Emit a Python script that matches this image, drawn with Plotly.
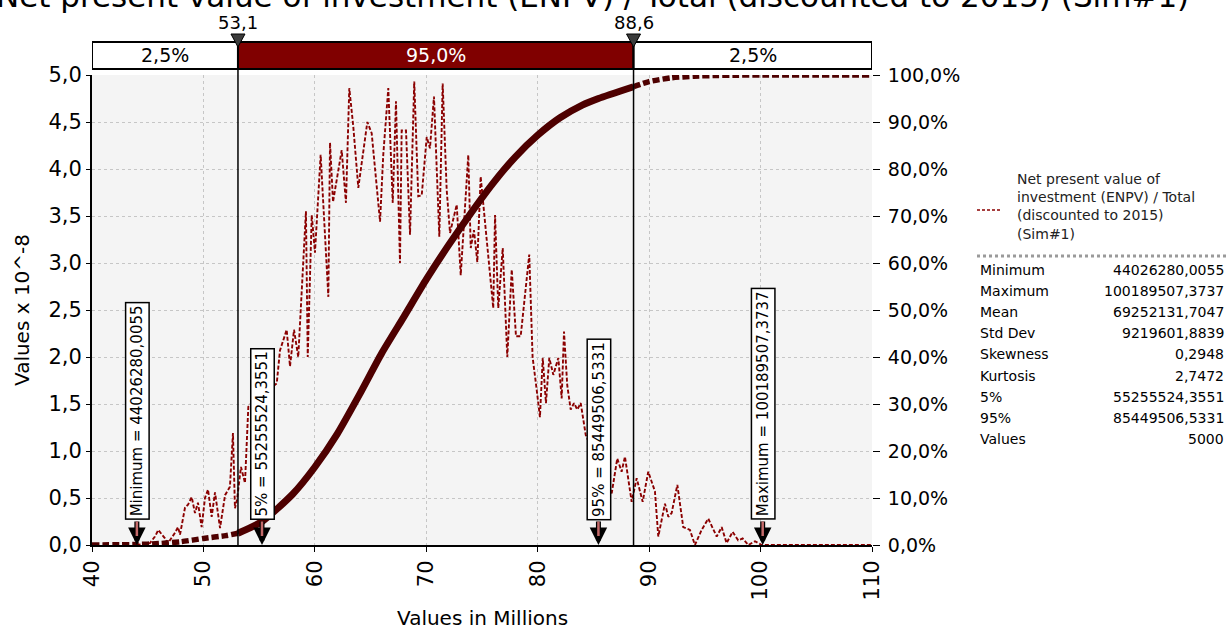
import plotly.graph_objects as go

# ---- Data -----------------------------------------------------------------
# Simulated ENPV histogram density (x in millions, density in units of 10^-8)
dens_x = [44.0, 45.2, 45.65, 45.95, 46.55, 46.82, 47.45, 47.72, 47.9, 48.35,
          48.62, 48.95, 49.24, 49.51, 49.84, 50.14, 50.41, 50.74, 51.04, 51.49,
          51.94, 52.38, 52.65, 52.83, 53.01, 53.37, 53.73, 54.03, 54.33, 56.58,
          56.87, 57.47, 57.77, 58.13, 58.51, 59.2, 59.36, 59.72, 60.01, 60.52,
          61.21, 61.36, 61.63, 62.41, 62.79, 63.09, 63.45, 63.9, 64.71, 65.1,
          65.85, 66.14, 66.59, 66.99, 67.28, 67.64, 67.79, 68.18, 68.54, 68.92,
          69.28, 69.59, 70.04, 70.33, 70.69, 71.17, 71.47, 71.83, 72.13, 72.73,
          73.09, 73.77, 73.99, 74.28, 74.58, 74.88, 76.01, 76.17, 76.46, 76.86,
          77.27, 77.67, 78.05, 78.47, 79.24, 79.54, 79.91, 80.2, 80.45, 80.74,
          81.04, 81.4, 81.85, 82.15, 82.36, 82.65, 82.96, 83.26, 83.55, 83.86,
          84.31, 86.64, 87.14, 87.53, 87.83, 88.43, 88.88, 89.42, 89.92, 90.52,
          90.82, 91.42, 91.72, 92.02, 92.53, 93.06, 93.66, 94.11, 94.71, 95.31,
          96.06, 96.51, 96.95, 97.49, 97.99, 98.39, 98.9, 99.5, 100.1, 110.0]
dens_y = [0.0, 0.02, 0.09, 0.16, 0.07, 0.02, 0.13, 0.19, 0.11, 0.40,
          0.43, 0.51, 0.34, 0.45, 0.19, 0.50, 0.59, 0.30, 0.56, 0.18,
          0.53, 0.62, 1.19, 0.39, 0.48, 0.83, 0.66, 1.47, 1.51, 1.72,
          2.07, 2.29, 1.90, 2.29, 2.00, 3.55, 2.00, 3.51, 3.11, 4.15,
          2.64, 4.28, 3.65, 4.20, 3.64, 4.86, 4.45, 3.80, 4.50, 4.38,
          3.44, 4.15, 4.86, 3.64, 4.72, 3.00, 4.41, 4.41, 3.30, 4.93,
          3.71, 3.72, 4.34, 4.22, 4.77, 3.28, 4.91, 3.78, 3.32, 3.62,
          2.87, 4.15, 3.16, 3.35, 3.01, 3.92, 2.52, 3.51, 2.52, 3.16,
          2.00, 2.93, 2.22, 2.22, 3.09, 2.00, 1.65, 1.36, 1.99, 1.51,
          1.99, 1.81, 1.99, 1.56, 2.27, 1.70, 1.44, 1.51, 1.44, 1.51,
          1.17, 0.55, 0.92, 0.78, 0.94, 0.46, 0.71, 0.46, 0.78, 0.57,
          0.09, 0.44, 0.30, 0.34, 0.64, 0.19, 0.16, 0.0, 0.16, 0.28,
          0.09, 0.19, 0.02, 0.14, 0.05, 0.07, 0.0, 0.04, 0.0, 0.0]

# Cumulative distribution (percent)
cdf_x = [40.0, 44.0, 46.0, 48.0, 50.0, 52.0, 53.1, 55.26,
         58.0, 60.0, 62.0, 64.0, 66.0, 68.0, 70.0, 72.0, 74.0, 76.0,
         78.0, 80.0, 82.0, 84.0, 85.45, 88.6, 90.0, 92.0,
         94.0, 96.0, 98.0, 100.19, 110.0]
cdf_p = [0.0, 0.1, 0.3, 0.7, 1.4, 2.0, 2.5, 5.0,
         10.8, 16.6, 23.6, 32.0, 40.8, 48.6, 56.5, 63.8, 70.6, 77.0,
         82.6, 87.2, 90.9, 93.6, 95.0, 97.5, 98.6, 99.4,
         99.75, 99.9, 99.97, 100.0, 100.0]

# Confidence band delimiters and the share of values in each part
band_cuts = [53.1, 88.6]
band_pct = [2.5, 95.0, 2.5]

# Marked statistics (raw values)
marker_names = ["Minimum", "5%", "95%", "Maximum"]
marker_vals = [44026280.0055, 55255524.3551, 85449506.5331, 100189507.3737]

# Summary table
series_name = "Net present value of<br>investment (ENPV) / Total<br>(discounted to 2015)<br>(Sim#1)"
stat_names = ["Minimum", "Maximum", "Mean", "Std Dev", "Skewness", "Kurtosis", "5%", "95%", "Values"]
stat_vals = [44026280.0055, 100189507.3737, 69252131.7047, 9219601.8839,
             0.2948, 2.7472, 55255524.3551, 85449506.5331, 5000]

title_text = "Net present value of investment (ENPV) / Total (discounted to 2015) (Sim#1)"

# ---- Helpers ----------------------------------------------------------------
FONT = "DejaVu Sans"
X0, X1, Y0, Y1 = 40, 110, 0, 5
L, R, T, B = 92, 872, 75, 545          # plot area in pixels
W, H = R - L, B - T


def px(xp):
    return (xp - L) / W


def py(yp):
    return (B - yp) / H


def num(v, d=4):
    return f"{v:.{d}f}".replace(".", ",")


def split(xs, ys, lo, hi):
    a = [(x, y) for x, y in zip(xs, ys) if x <= lo]
    m = [(x, y) for x, y in zip(xs, ys) if lo <= x <= hi]
    b = [(x, y) for x, y in zip(xs, ys) if x >= hi]
    return a, m, b


fig = go.Figure()

# density (dashed)
fig.add_trace(go.Scatter(
    x=dens_x, y=dens_y, mode="lines",
    line=dict(color="#8b0000", width=1.9, dash="4px,2px"),
    showlegend=False, hoverinfo="skip"))

# cumulative curve: hatched outside the band, solid inside
left, mid, right = split(cdf_x, cdf_p, band_cuts[0], band_cuts[1])
cdf_col = "#4e0000"
for seg, solid in ((left, False), (mid, True), (right, False)):
    fig.add_trace(go.Scatter(
        x=[p[0] for p in seg], y=[p[1] for p in seg], yaxis="y2", mode="lines",
        line=dict(color=cdf_col, width=7 if solid else 5.5,
                  dash="solid" if solid else "7px,3px",
                  shape="spline", smoothing=0.6),
        showlegend=False, hoverinfo="skip"))

shapes = []
annotations = []

# top band bar
edges = [X0] + band_cuts + [X1]
fills = ["white", "#800000", "white"]
for i in range(3):
    shapes.append(dict(type="rect", xref="x", yref="paper",
                       x0=edges[i], x1=edges[i + 1], y0=py(69), y1=py(42),
                       fillcolor=fills[i], line=dict(color="black", width=2)))
    annotations.append(dict(x=(edges[i] + edges[i + 1]) / 2, y=py(55.5),
                            xref="x", yref="paper", showarrow=False,
                            xanchor="center", yanchor="middle",
                            text=num(band_pct[i], 1) + "%",
                            font=dict(family=FONT, size=19,
                                      color="white" if i == 1 else "black")))

for c in band_cuts:
    shapes.append(dict(type="line", xref="x", yref="paper", x0=c, x1=c,
                       y0=0, y1=py(42), line=dict(color="black", width=1.5)))
    # downward triangle marking the cut
    shapes.append(dict(type="path", xref="x", yref="paper",
                       xsizemode="pixel", ysizemode="pixel",
                       xanchor=c, yanchor=py(40),
                       path="M -7,6 L 7,6 L 0,-7 Z",
                       fillcolor="#3c3c3c", line=dict(color="black", width=1)))
    annotations.append(dict(x=c, y=py(22), xref="x", yref="paper", showarrow=False,
                            xanchor="center", yanchor="middle",
                            text=num(c, 1), font=dict(family=FONT, size=18, color="black")))

# statistic markers: label box + arrow down to the axis
for name, v in zip(marker_names, marker_vals):
    xv = v / 1e6
    annotations.append(dict(x=xv, y=0, xref="x", yref="y", text="", showarrow=True,
                            ax=0, ay=-25, arrowcolor="black", arrowwidth=5,
                            arrowhead=2, arrowsize=0.7))
    annotations.append(dict(x=xv, y=0, xref="x", yref="y", text="", showarrow=True,
                            ax=0, ay=-25, arrowcolor="#c46a6a", arrowwidth=2.5,
                            arrowhead=0, standoff=9))
    annotations.append(dict(x=xv, y=py(520), xref="x", yref="paper",
                            yanchor="bottom", xanchor="center", showarrow=False,
                            textangle=-90, text=f"{name} = {num(v)}",
                            font=dict(family=FONT, size=15, color="black"),
                            bgcolor="white", bordercolor="black", borderwidth=1.5,
                            borderpad=2))

# title (runs off the top of the page)
annotations.append(dict(x=px(592), y=py(-4), xref="paper", yref="paper",
                        xanchor="center", yanchor="middle",
                        showarrow=False, text=title_text,
                        font=dict(family=FONT, size=31, color="black")))

# axis titles
annotations.append(dict(x=0.5, y=py(618), xref="paper", yref="paper", showarrow=False,
                        xanchor="center", yanchor="middle",
                        text="Values in Millions", font=dict(family=FONT, size=20, color="black")))
annotations.append(dict(x=px(22), y=0.5, xref="paper", yref="paper", showarrow=False,
                        xanchor="center", yanchor="middle",
                        textangle=-90, text="Values x 10^-8",
                        font=dict(family=FONT, size=20, color="black")))

# legend block
shapes.append(dict(type="line", xref="paper", yref="paper", x0=px(977), x1=px(1000),
                   y0=py(210), y1=py(210),
                   line=dict(color="#8b0000", width=1.6, dash="3px,2px")))
annotations.append(dict(x=px(1015), y=py(169), xref="paper", yref="paper",
                        xanchor="left", yanchor="top", align="left", showarrow=False,
                        text=series_name, font=dict(family=FONT, size=14, color="#222")))
shapes.append(dict(type="line", xref="paper", yref="paper", x0=px(977), x1=px(1227),
                   y0=py(256), y1=py(256), line=dict(color="#9a9a9a", width=3, dash="dot")))

# statistics table
for i, (n, v) in enumerate(zip(stat_names, stat_vals)):
    yy = py(270 + i * 21.1)
    annotations.append(dict(x=px(978), y=yy, xref="paper", yref="paper",
                            xanchor="left", yanchor="middle",
                            showarrow=False, text=n,
                            font=dict(family=FONT, size=14, color="black")))
    txt = str(v) if isinstance(v, int) else num(v)
    annotations.append(dict(x=px(1226), y=yy, xref="paper", yref="paper",
                            xanchor="right", yanchor="middle",
                            showarrow=False, text=txt,
                            font=dict(family=FONT, size=14, color="black")))

grid = dict(showgrid=True, gridcolor="#c6c6c6", gridwidth=1.2, griddash="dot")

fig.update_layout(
    width=1227, height=630,
    margin=dict(l=L, r=1227 - R, t=T, b=630 - B, pad=0),
    paper_bgcolor="white", plot_bgcolor="#f4f4f4",
    separators=", ",
    font=dict(family=FONT, size=21, color="black"),
    xaxis=dict(range=[X0, X1], dtick=10, tick0=40, tickangle=-90, **grid,
               showline=True, linecolor="black", linewidth=2,
               ticks="outside", ticklen=5, tickcolor="black", zeroline=False,
               tickfont=dict(family=FONT, size=21)),
    yaxis=dict(range=[Y0, Y1], dtick=0.5, tickformat=".1f", **grid,
               showline=True, linecolor="black", linewidth=2,
               ticks="outside", ticklen=4, tickcolor="black", zeroline=False,
               tickfont=dict(family=FONT, size=21)),
    yaxis2=dict(range=[0, 100], dtick=10, tickformat=".1f", ticksuffix="%",
                overlaying="y", side="right", showgrid=False, zeroline=False,
                showline=False, ticks="outside", ticklen=7, tickcolor="black",
                ticklabelstandoff=4,
                tickfont=dict(family=FONT, size=19)),
    shapes=shapes, annotations=annotations,
    showlegend=False,
)

fig.write_html("out.html")
